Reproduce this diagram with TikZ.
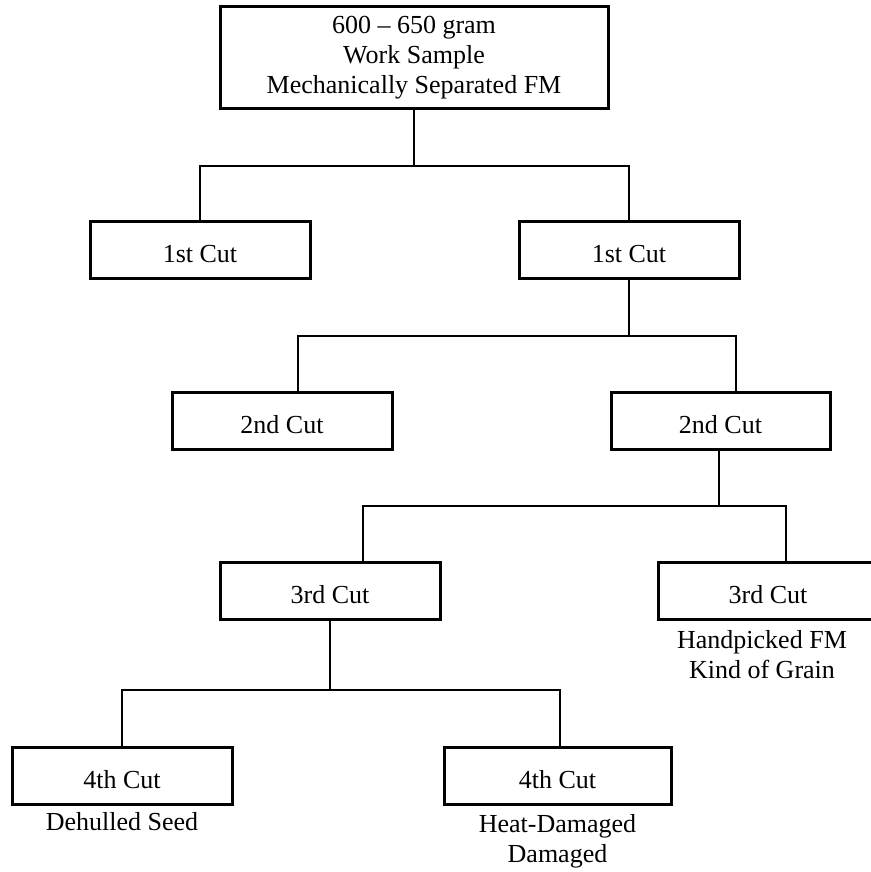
\documentclass[tikz,border=0pt]{standalone}
\usepackage{fontspec}
\setmainfont{Liberation Serif}
\begin{document}
\begin{tikzpicture}[x=1pt,y=-1pt,
  cutbox/.style={draw=black,line width=3pt,rectangle,minimum width=220pt,minimum height=57pt,inner sep=0pt,outer sep=0pt,font=\fontsize{26}{30}\selectfont,text height=25pt,text depth=0pt},
  note/.style={align=center,inner sep=0pt,font=\fontsize{26}{30}\selectfont},
  link/.style={draw=black,line width=2.8pt}]
\useasboundingbox (0,0) rectangle (870,872);
\node[draw=black,line width=3pt,rectangle,minimum width=388pt,minimum height=102pt,inner sep=0pt,outer sep=0pt,align=center,font=\fontsize{26}{30}\selectfont] (top) at (414,58)
  {600 – 650 gram\\Work Sample\\Mechanically Separated FM};
\node[cutbox] (L1) at (200,250) {1st Cut};
\node[cutbox] (R1) at (629,250) {1st Cut};
\node[cutbox] (L2) at (282,421) {2nd Cut};
\node[cutbox,minimum width=219pt] (R2) at (720.5,421) {2nd Cut};
\node[cutbox] (L3) at (330,590.5) {3rd Cut};
\node[cutbox] (R3) at (768,590.5) {3rd Cut};
\node[cutbox] (L4) at (122,775.5) {4th Cut};
\node[cutbox,minimum width=227pt] (R4) at (557.5,775.5) {4th Cut};
\node[note] (n3) at (762,655) {Handpicked FM\\Kind of Grain};
\node[note] (n4l) at (122,822) {Dehulled Seed};
\node[note] (n4r) at (557.5,841) {Heat-Damaged\\Damaged};
\coordinate (bus1) at (414,166);
\coordinate (bus2) at (629,336);
\coordinate (bus3) at (719,506);
\coordinate (bus4) at (330,690);
\draw[link] (top.south) -- (bus1);
\draw[link] (L1.north) |- (bus1) -| (R1.north);
\draw[link] (R1.south) -- (bus2);
\draw[link] ([xshift=16pt]L2.north) |- (bus2) -| ([xshift=15.5pt]R2.north);
\draw[link] ([xshift=-1.5pt]R2.south) -- (bus3);
\draw[link] ([xshift=33pt]L3.north) |- (bus3) -| ([xshift=18pt]R3.north);
\draw[link] (L3.south) -- (bus4);
\draw[link] (L4.north) |- (bus4) -| ([xshift=2.5pt]R4.north);
\end{tikzpicture}
\end{document}
